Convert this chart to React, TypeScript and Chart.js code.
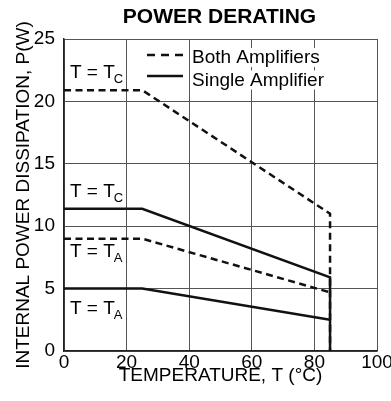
import React, { useEffect, useRef } from 'react';
import { Chart, registerables } from 'chart.js';

Chart.register(...registerables);

const FONT = '"Liberation Sans", Arial, Helvetica, sans-serif';

const TITLE = 'POWER DERATING';
const X_TITLE = 'TEMPERATURE, T (°C)';
const Y_TITLE = 'INTERNAL POWER DISSIPATION, P(W)';

const xTickValues = [0, 20, 40, 60, 80, 100];
const yTickValues = [0, 5, 10, 15, 20, 25];

// Single amplifier, T = TC (solid)
const singleTcTemp = [0, 25, 85, 85];
const singleTcPower = [11.4, 11.4, 5.9, 0];
// Single amplifier, T = TA (solid)
const singleTaTemp = [0, 25, 85];
const singleTaPower = [5.0, 5.0, 2.5];
// Both amplifiers, T = TC (dashed)
const bothTcTemp = [0, 25, 85, 85];
const bothTcPower = [20.9, 20.9, 11.0, 0];
// Both amplifiers, T = TA (dashed)
const bothTaTemp = [0, 25, 85];
const bothTaPower = [9.0, 9.0, 4.7];

const legendLabels = ['Both Amplifiers', 'Single Amplifier'];

// Annotation labels "T = T<sub>" (x in °C, baseline y in W)
const annoX = [1.9, 1.9, 1.9, 1.9];
const annoY = [21.9, 12.35, 7.5, 3.0];
const annoSub = ['C', 'C', 'A', 'A'];

const LINE = '#111';

function pts(xs: number[], ys: number[]) {
  return xs.map((x, i) => ({ x, y: ys[i] }));
}

const textPlugin = {
  id: 'texts',
  afterDatasetsDraw(chart: any) {
    const { ctx, chartArea: ca, scales } = chart;
    ctx.save();
    ctx.fillStyle = '#000';

    // Title
    ctx.font = `bold 21px ${FONT}`;
    ctx.textAlign = 'center';
    ctx.textBaseline = 'middle';
    ctx.fillText(TITLE, (ca.left + ca.right) / 2 - 1, 17.5);

    // Legend
    ctx.textAlign = 'left';
    ctx.textBaseline = 'alphabetic';
    ctx.font = `19px ${FONT}`;
    const lx0 = ca.left + 83;
    const lx1 = ca.left + 119;
    const tx = ca.left + 128;
    const baselines = [ca.top + 24, ca.top + 46.5];
    const sampleY = [ca.top + 16, ca.top + 37];
    legendLabels.forEach((lab, i) => {
      const w = ctx.measureText(lab).width;
      ctx.fillStyle = '#fff';
      ctx.fillRect(tx - 1, baselines[i] - 15, w + 3, 19);
      ctx.fillStyle = '#000';
      ctx.fillText(lab, tx, baselines[i]);
      ctx.beginPath();
      ctx.strokeStyle = LINE;
      ctx.lineWidth = 2.5;
      ctx.setLineDash(i === 0 ? [8, 6] : []);
      ctx.moveTo(lx0, sampleY[i]);
      ctx.lineTo(lx1, sampleY[i]);
      ctx.stroke();
    });
    ctx.setLineDash([]);

    // Annotations
    annoX.forEach((xv, i) => {
      const x = scales.x.getPixelForValue(xv);
      const y = scales.y.getPixelForValue(annoY[i]);
      ctx.font = `19px ${FONT}`;
      const main = 'T = T';
      ctx.fillText(main, x, y);
      const w = ctx.measureText(main).width;
      ctx.font = `13px ${FONT}`;
      ctx.fillText(annoSub[i], x + w - 1, y + 5);
    });

    ctx.restore();
  },
};

export default function App() {
  const ref = useRef<HTMLCanvasElement | null>(null);

  useEffect(() => {
    if (!ref.current) return;
    const dsBase = {
      borderColor: LINE,
      borderWidth: 2.5,
      pointRadius: 0,
      tension: 0,
      fill: false,
    };
    const chart = new Chart(ref.current, {
      type: 'line',
      data: {
        datasets: [
          { ...dsBase, label: 'Single Tc', data: pts(singleTcTemp, singleTcPower) },
          { ...dsBase, label: 'Single Ta', data: pts(singleTaTemp, singleTaPower) },
          { ...dsBase, label: 'Both Tc', data: pts(bothTcTemp, bothTcPower), borderDash: [7, 4.5] },
          { ...dsBase, label: 'Both Ta', data: pts(bothTaTemp, bothTaPower), borderDash: [7, 4.5] },
        ],
      },
      options: {
        animation: false,
        responsive: false,
        devicePixelRatio: 1,
        layout: { padding: { top: 39, right: 14, bottom: 0, left: 0 } },
        plugins: {
          legend: { display: false },
          tooltip: { enabled: false },
          title: { display: false },
        },
        scales: {
          x: {
            type: 'linear',
            min: 0,
            max: 100,
            afterBuildTicks: (s: any) => {
              s.ticks = xTickValues.map((v) => ({ value: v }));
            },
            afterFit: (s: any) => {
              s.height = 50;
              s.paddingLeft = 0;
              s.paddingRight = 0;
            },
            ticks: {
              color: '#000',
              font: { family: FONT, size: 19 },
              padding: 0,
              maxRotation: 0,
              autoSkip: false,
            },
            grid: { color: '#555', lineWidth: 1, drawTicks: false },
            border: { color: '#222', width: 1.5 },
            title: {
              display: true,
              text: X_TITLE,
              color: '#000',
              font: { family: FONT, size: 19 },
              padding: { top: 0, bottom: 14 },
            },
          },
          y: {
            type: 'linear',
            min: 0,
            max: 25,
            afterBuildTicks: (s: any) => {
              s.ticks = yTickValues.map((v) => ({ value: v }));
            },
            afterFit: (s: any) => {
              s.width = 64;
              s.paddingTop = 0;
              s.paddingBottom = 0;
            },
            ticks: {
              color: '#000',
              font: { family: FONT, size: 19 },
              padding: 9,
              autoSkip: false,
            },
            grid: { color: '#555', lineWidth: 1, drawTicks: false },
            border: { color: '#222', width: 1.5 },
            title: {
              display: true,
              text: Y_TITLE,
              color: '#000',
              font: { family: FONT, size: 19 },
              padding: { top: 12, bottom: 0 },
            },
          },
        },
      },
      plugins: [textPlugin],
    } as any);
    return () => chart.destroy();
  }, []);

  return (
    <div style={{ position: 'absolute', left: 0, top: 0, width: 391, height: 401, background: '#fff' }}>
      <canvas ref={ref} width={391} height={401} style={{ display: 'block' }} />
    </div>
  );
}
